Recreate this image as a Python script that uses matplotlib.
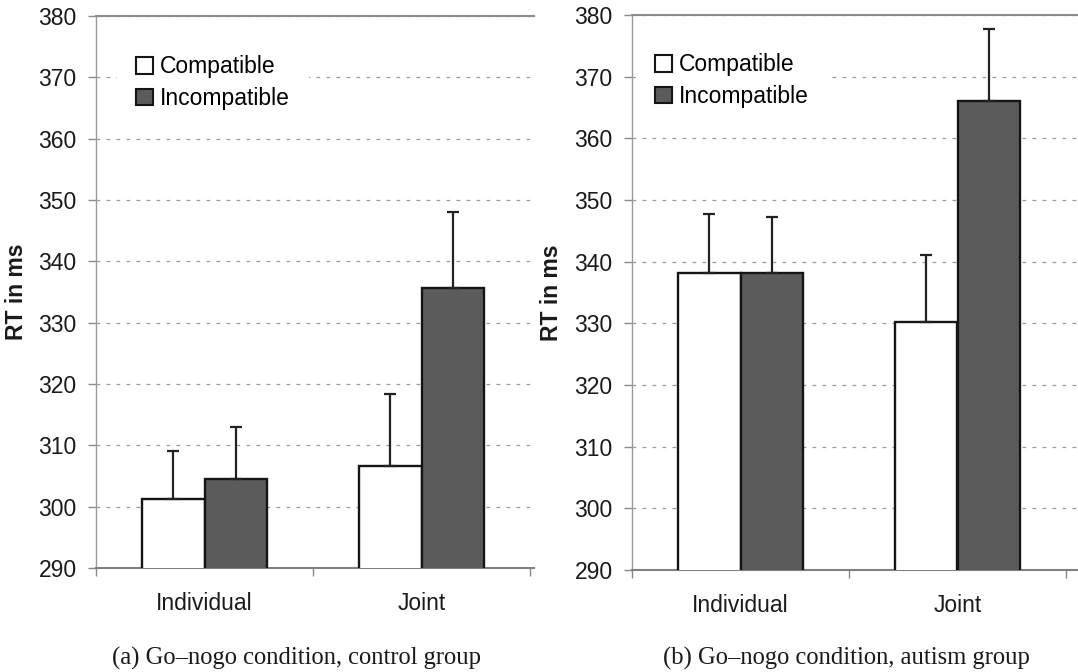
import matplotlib
matplotlib.use("Agg")
import matplotlib.pyplot as plt
import numpy as np
from matplotlib.patches import Patch

plt.rcParams["font.family"] = ["Liberation Sans", "DejaVu Sans"]

categories = ["Individual", "Joint"]
series = ["Compatible", "Incompatible"]

# (a) control group
ctrl_comp = [301.3, 306.7]
ctrl_incomp = [304.5, 335.6]
ctrl_comp_err = [7.7, 11.7]
ctrl_incomp_err = [8.5, 12.4]

# (b) autism group
aut_comp = [338.1, 330.2]
aut_incomp = [338.1, 366.0]
aut_comp_err = [9.6, 10.9]
aut_incomp_err = [9.2, 11.8]

captions = ["(a) Go\u2013nogo condition, control group",
            "(b) Go\u2013nogo condition, autism group"]

yticks = np.arange(290, 381, 10)

W, H = 1078, 672
fig = plt.figure(figsize=(W / 100, H / 100), dpi=100)

# axes rectangles in pixels: left, top, right, bottom
boxes = [(96, 16, 534, 568), (632, 15, 1078, 570)]
legend_pos = [(117, 36), (636, 34)]
ylabel_x = [28, 563]
caption_x = [296, 846]
bw = 0.29
fs = 16.5

panels = [
    (ctrl_comp, ctrl_incomp, ctrl_comp_err, ctrl_incomp_err),
    (aut_comp, aut_incomp, aut_comp_err, aut_incomp_err),
]

for i, (comp, incomp, comp_err, incomp_err) in enumerate(panels):
    l, t, r, b = boxes[i]
    ax = fig.add_axes([l / W, (H - b) / H, (r - l) / W, (b - t) / H])
    x = np.arange(len(categories))
    ekw = dict(ecolor="#222222", elinewidth=1.6, capthick=1.6, capsize=4.3)
    ax.bar(x - bw / 2, comp, bw, color="white", edgecolor="#151515",
           linewidth=1.7, zorder=3,
           yerr=[np.zeros(len(comp)), comp_err], error_kw=ekw)
    ax.bar(x + bw / 2, incomp, bw, color="#5b5b5b", edgecolor="#151515",
           linewidth=1.7, zorder=3,
           yerr=[np.zeros(len(incomp)), incomp_err], error_kw=ekw)

    ax.set_ylim(290, 380)
    ax.set_xlim(-0.5, -0.5 + (r - l) / 217)
    ax.set_yticks(yticks)
    ax.set_yticklabels([str(v) for v in yticks], fontsize=fs, color="#1a1a1a")
    ax.set_xticks([-0.5, 0.5, 1.5])
    ax.set_xticklabels([])
    ax.set_xticks(x, minor=True)
    ax.set_xticklabels(categories, minor=True, fontsize=fs, color="#1a1a1a")
    ax.tick_params(axis="x", which="minor", length=0, pad=17.5)
    ax.tick_params(axis="x", which="major", length=6, width=1, color="#888888", direction="out")
    ax.tick_params(axis="y", length=6, width=1, color="#888888", direction="out", pad=8)

    ax.yaxis.grid(True, color="#9a9a9a", linewidth=0.9, linestyle=(0, (3, 5)), zorder=0)
    ax.set_axisbelow(True)

    ax.spines["right"].set_visible(False)
    ax.spines["left"].set_color("#9a9a9a")
    ax.spines["left"].set_linewidth(1.0)
    ax.spines["bottom"].set_color("#808080")
    ax.spines["bottom"].set_linewidth(1.5)
    ax.spines["top"].set_color("#8c8c8c")
    ax.spines["top"].set_linewidth(1.5)

    ax.set_ylabel("RT in ms", fontsize=fs, fontweight="bold", color="#1a1a1a")
    ax.yaxis.set_label_coords((ylabel_x[i] - l) / (r - l), 0.5)

    handles = [Patch(facecolor="white", edgecolor="#151515", linewidth=1.5),
               Patch(facecolor="#5b5b5b", edgecolor="#151515", linewidth=1.5)]
    lx, ly = legend_pos[i]
    leg = ax.legend(handles, series, loc="upper left",
                    bbox_to_anchor=((lx - l) / (r - l), (b - ly) / (b - t)),
                    fontsize=fs, frameon=True, fancybox=False,
                    borderpad=0.85, borderaxespad=0, handlelength=0.72,
                    handleheight=0.72, handletextpad=0.3, labelspacing=0.38)
    leg.get_frame().set_facecolor("white")
    leg.get_frame().set_edgecolor("none")
    leg.get_frame().set_alpha(1)

    fig.text(caption_x[i] / W, (H - 658) / H, captions[i], ha="center", va="center",
             fontsize=17.7, family=["Liberation Serif", "DejaVu Serif"], color="#1a1a1a")

fig.savefig("out.png", dpi=100)
